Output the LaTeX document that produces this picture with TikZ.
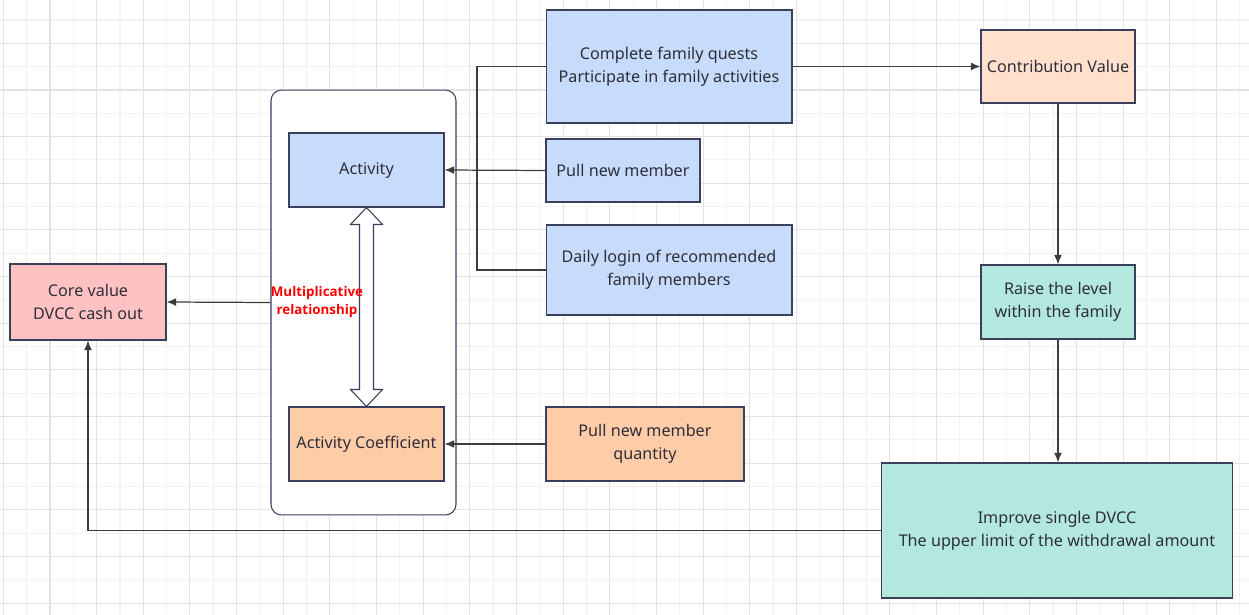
\documentclass[tikz,border=0pt]{standalone}
\usepackage{fontspec}
\setmainfont{Noto Sans}
\newfontfamily\notefont{Open Sans}
\usetikzlibrary{arrows.meta,calc}
\definecolor{linec}{HTML}{3A3F5C}
\definecolor{arrc}{HTML}{3C3C3C}
\definecolor{textc}{HTML}{2E2E3A}
\definecolor{bluef}{HTML}{C7DCFA}
\definecolor{orangef}{HTML}{FFCCA8}
\definecolor{peachf}{HTML}{FFE1CE}
\definecolor{pinkf}{HTML}{FFC2C2}
\definecolor{tealf}{HTML}{B3E8DE}
\tikzset{
  box/.style={draw=linec, line width=0.6pt, text=textc, align=center,
    inner sep=0pt, font=\fontsize{9.2}{13}\selectfont},
  arr/.style={-{Latex[length=5.5pt,width=4.5pt]}, arrc, line width=0.7pt},
  ln/.style={arrc, line width=0.7pt}
}
\begin{document}
\begin{tikzpicture}[x=0.02cm,y=-0.02cm]
\useasboundingbox (0,0) rectangle (1249,615);
\fill[white] (0,0) rectangle (1249,615);
\begin{scope}
\clip (0,0) rectangle (1249,615);
\begin{scope}[shift={(3.333,-3.333)}]
\draw[step=0.46667cm,gray!10,line width=0.6pt] (-40,-40) grid (1300,660);
\draw[step=0.93333cm,gray!22,line width=0.6pt] (-40,-40) grid (1300,660);
\end{scope}
\end{scope}
% group frame
\node[draw=linec, line width=0.6pt, fill=white, rounded corners=6pt,
  minimum width=3.7cm, minimum height=8.5cm] (grp) at (363.5,302.5) {};
% left part
\node[box, fill=pinkf, minimum width=3.12cm, minimum height=1.52cm] (core) at (88,302) {Core value\\DVCC cash out};
\node[box, fill=bluef, minimum width=3.1cm, minimum height=1.48cm] (act) at (366.5,170) {Activity};
\node[box, fill=orangef, minimum width=3.1cm, minimum height=1.48cm] (coef) at (366.5,444) {Activity Coefficient};
% middle column
\node[box, fill=bluef, minimum width=4.92cm, minimum height=2.26cm] (quest) at (669,66.5) {Complete family quests\\Participate in family activities};
\node[box, fill=bluef, minimum width=3.08cm, minimum height=1.26cm] (pull) at (623,170.5) {Pull new member};
\node[box, fill=bluef, minimum width=4.92cm, minimum height=1.8cm] (login) at (669,270) {Daily login of recommended\\family members};
\node[box, fill=orangef, minimum width=3.96cm, minimum height=1.48cm] (qty) at (645,444) {Pull new member\\quantity};
% right column
\node[box, fill=peachf, minimum width=3.08cm, minimum height=1.46cm] (contr) at (1058,66.5) {Contribution Value};
\node[box, fill=tealf, minimum width=3.08cm, minimum height=1.48cm] (level) at (1058,302) {Raise the level\\within the family};
\node[box, fill=tealf, minimum width=7.04cm, minimum height=2.7cm] (limit) at (1057,530.5) {Improve single DVCC\\The upper limit of the withdrawal amount};
% double arrow
\draw[linec, line width=0.6pt, fill=white] (act.south) -- ++(16,17) -- ++(-9,0)
  -- ($(coef.north)+(7,-17)$) -- ++(9,0) -- (coef.north) -- ++(-16,-17) -- ++(9,0)
  -- ($(act.south)+(-7,17)$) -- ++(-9,0) -- cycle;
\node[text=red, font=\notefont\bfseries\fontsize{7.6}{10.6}\selectfont, align=center] (mul) at (317,302) {Multiplicative\\relationship};
% connectors
\coordinate (jn) at (477,170);
\draw[ln] (quest.west) -| (jn) |- (login.west);
\draw[arr] (pull.west) -- (act.east);
\draw[arr] (qty.west) -- (coef.east);
\draw[arr] (grp.west) -- (core.east);
\draw[arr] (quest.east) -- (contr.west);
\draw[arr] (contr.south) -- (level.north);
\draw[arr] (level.south) -- (level.south |- limit.north);
\draw[arr] (limit.west) -| (core.south);
\end{tikzpicture}
\end{document}
